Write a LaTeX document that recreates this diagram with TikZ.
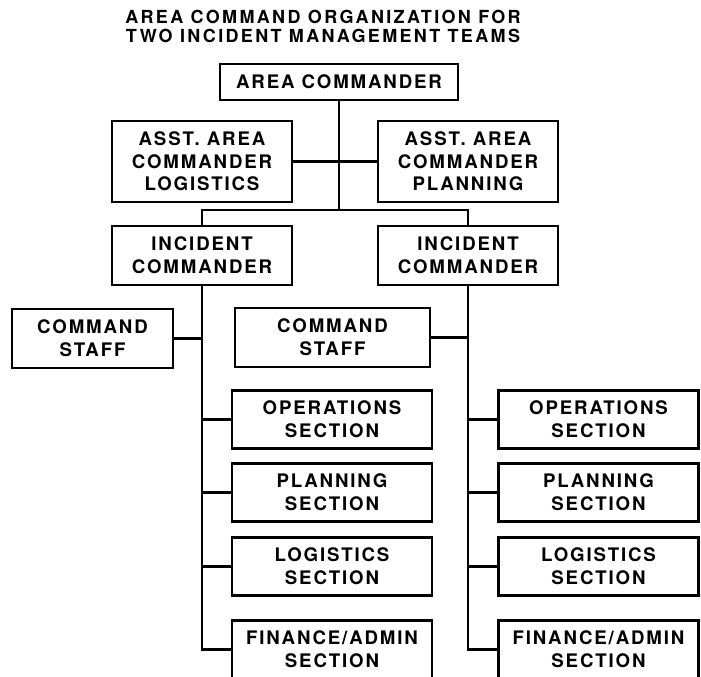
\documentclass[tikz,border=0pt]{standalone}
\usepackage{fontspec}
\setmainfont{Liberation Sans}
\newfontfamily\orgfont{texgyreheros-bold.otf}[LetterSpace=10]
\newfontfamily\headfont{texgyreheros-bold.otf}[LetterSpace=13]

\tikzset{
  orgbox/.style={draw, line width=1.9pt, align=center, inner sep=0pt,
    font=\orgfont\fontsize{14}{17}\selectfont},
  sectbox/.style={orgbox, minimum width=150pt, minimum height=43.5pt},
  orgline/.style={line width=2pt},
}

\begin{document}
\begin{tikzpicture}[x=0.75pt,y=-0.75pt]
\clip (0,0) rectangle (701,677);
\node[align=center, font=\headfont\fontsize{13.5}{14.25}\selectfont] (title) at (323,26)
  {AREA COMMAND ORGANIZATION FOR\\TWO INCIDENT MANAGEMENT TEAMS};

% area command
\node[orgbox, minimum width=178.5pt, minimum height=27pt] (area) at (339,82) {AREA COMMANDER};
\node[orgbox, minimum width=135pt, minimum height=60.75pt] (asstlog) at (202,161.5) {ASST. AREA\\COMMANDER\\LOGISTICS};
\node[orgbox, minimum width=135pt, minimum height=60.75pt] (asstplan) at (468,161.5) {ASST. AREA\\COMMANDER\\PLANNING};
\node[orgbox, minimum width=135pt, minimum height=44.25pt] (ic1) at (202,255.5) {INCIDENT\\COMMANDER};
\node[orgbox, minimum width=135pt, minimum height=44.25pt] (ic2) at (468,255.5) {INCIDENT\\COMMANDER};
\coordinate (split) at (339,210);

% first team
\node[orgbox, minimum width=120.75pt, minimum height=44.25pt] (cs1) at (92.5,338.5) {COMMAND\\STAFF};
\node[sectbox] (ops1) at (332,419.5) {OPERATIONS\\SECTION};
\node[sectbox] (plan1) at (332,492.5) {PLANNING\\SECTION};
\node[sectbox] (log1) at (332,566.5) {LOGISTICS\\SECTION};
\node[sectbox] (fin1) at (332,649.5) {FINANCE/ADMIN\\SECTION};

% second team
\node[orgbox, minimum width=146.25pt, minimum height=44.25pt] (cs2) at (332.5,337.5) {COMMAND\\STAFF};
\node[sectbox] (ops2) at (598.5,419.5) {OPERATIONS\\SECTION};
\node[sectbox] (plan2) at (598.5,492.5) {PLANNING\\SECTION};
\node[sectbox] (log2) at (598.5,566.5) {LOGISTICS\\SECTION};
\node[sectbox] (fin2) at (598.5,649.5) {FINANCE/ADMIN\\SECTION};

% lines
\draw[orgline] (area) -- (split);
\draw[orgline] (asstlog) -- (asstplan);
\draw[orgline] (ic1.north) |- (split) -| (ic2.north);
\foreach \t in {1,2} {
  \draw[orgline] (ic\t.south) |- (fin\t.west);
  \foreach \s in {cs,ops,plan,log}
    \draw[orgline] (\s\t) -- (\s\t -| ic\t.south);
}
\end{tikzpicture}
\end{document}
